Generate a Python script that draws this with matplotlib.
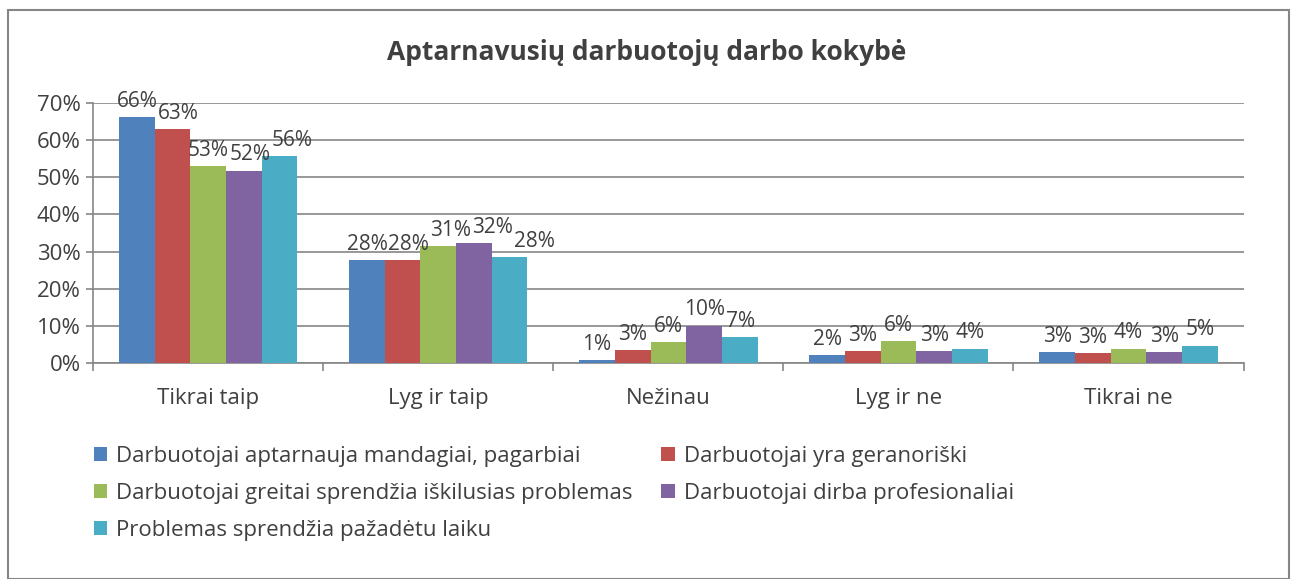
import matplotlib.pyplot as plt
import numpy as np
from matplotlib.patches import Rectangle

plt.rcParams['font.family'] = ['Open Sans', 'DejaVu Sans']

categories = ['Tikrai taip', 'Lyg ir taip', 'Nežinau', 'Lyg ir ne', 'Tikrai ne']
series_names = ['Darbuotojai aptarnauja mandagiai, pagarbiai',
                'Darbuotojai yra geranoriški',
                'Darbuotojai greitai sprendžia iškilusias problemas',
                'Darbuotojai dirba profesionaliai',
                'Problemas sprendžia pažadėtu laiku']
values = [
    [66.2, 27.7, 0.8, 2.1, 2.9],
    [63.0, 27.7, 3.4, 3.2, 2.6],
    [53.0, 31.4, 5.6, 5.8, 3.9],
    [51.7, 32.3, 10.0, 3.2, 2.9],
    [55.7, 28.5, 6.9, 3.9, 4.6],
]
colors = ['#4f81bd', '#c0504d', '#9bbb59', '#8064a2', '#4bacc6']
fs = 16

fig = plt.figure(figsize=(12.94, 5.79), dpi=100)
ax = fig.add_axes([0.072, 0.373, 0.889, 0.449])

x = np.arange(len(categories))
w = 0.155
labels = [[] for _ in categories]
for i, (name, vals) in enumerate(zip(series_names, values)):
    pos = x + (i - 2) * w
    ax.bar(pos, vals, w, color=colors[i], label=name, zorder=3)
    for j, (p, v) in enumerate(zip(pos, vals)):
        t = ax.annotate(f'{round(v):.0f}%', (p, v), xytext=(0, 4), textcoords='offset points',
                        ha='center', va='bottom', fontsize=15, color='#404040', zorder=4)
        labels[j].append(t)

ax.set_xlim(-0.5, len(categories) - 0.5)
ax.set_ylim(0, 70)
ax.set_yticks(range(0, 71, 10))
ax.set_yticklabels([f'{t}%' for t in range(0, 71, 10)], fontsize=fs, color='#404040')
ax.yaxis.grid(True, color='#868686', linewidth=1.2, zorder=0)
ax.set_xticks(x)
ax.set_xticklabels(categories, fontsize=fs, color='#404040')
ax.set_xticks(np.arange(-0.5, len(categories)), minor=True)
ax.tick_params(axis='x', which='major', length=0, pad=18)
ax.tick_params(axis='x', which='minor', length=6, color='#868686', width=1.2)
ax.tick_params(axis='y', length=5, color='#868686', width=1.2, pad=4)
for s in ['top', 'right']:
    ax.spines[s].set_visible(False)
for s in ['left', 'bottom']:
    ax.spines[s].set_color('#868686')
    ax.spines[s].set_linewidth(1.2)

fig.text(0.5, 0.91, 'Aptarnavusių darbuotojų darbo kokybė', ha='center', va='center',
         fontsize=19, fontweight='bold', color='#404040')

h, l = ax.get_legend_handles_labels()
order = [0, 2, 4, 1, 3]
fig.legend([h[k] for k in order], [l[k] for k in order], ncol=2,
           loc='upper left', bbox_to_anchor=(0.057, 0.265), frameon=False,
           fontsize=fs, handlelength=0.6, handleheight=0.6, handletextpad=0.4,
           columnspacing=1.3, labelspacing=0.72, labelcolor='#404040')

fig.patches.append(Rectangle((8 / 1294, 0), 1281 / 1294, 1 - 10 / 579,
                             transform=fig.transFigure, fill=False,
                             edgecolor='#868686', linewidth=1.5))

# nudge data labels right when they collide with the previous one (like Excel does)
renderer = fig.canvas.get_renderer()
for group in labels:
    prev = None
    for t in group:
        bb = t.get_window_extent(renderer)
        if prev is not None and bb.x0 < prev.x1 + 1 and bb.y0 < prev.y1 and bb.y1 > prev.y0:
            dx = (prev.x1 + 1 - bb.x0) * 72 / fig.dpi
            ox, oy = t.xyann
            t.xyann = (ox + dx, oy)
            bb = t.get_window_extent(renderer)
        prev = bb

fig.savefig('out.png', dpi=100)
